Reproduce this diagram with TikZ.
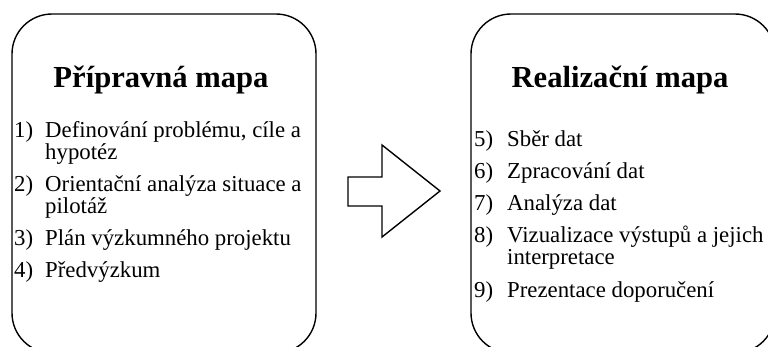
\documentclass[tikz,border=0pt]{standalone}
\usepackage{fontspec}
\setmainfont{Liberation Serif}
\begin{document}
\begin{tikzpicture}[x=1pt,y=-1pt,
  box/.style={draw, line width=1.4pt, rounded corners=40pt, minimum width=304pt, minimum height=339pt, inner sep=0pt},
  ttl/.style={font=\fontsize{30.6}{36}\selectfont\bfseries, anchor=base, inner sep=0pt},
  itm/.style={font=\fontsize{22.8}{22}\selectfont, anchor=base west, inner sep=0pt},
  blockarrow/.style={draw, line width=1.4pt, line join=miter}]
\useasboundingbox (0,0) rectangle (768,346);
\clip (0,0) rectangle (768,346);
\node[box] (L) at (164,183.5) {};
\node[box] (R) at (623,183.5) {};
\node[ttl] (t1) at (161,87) {Přípravná mapa};
\node[ttl] (t2) at (620,87) {Realizační mapa};
% left items
\node[itm] (n1) at (14,137) {1)};
\node[itm] (i1a) at (45,137) {Definování problému, cíle a};
\node[itm] (i1b) at (45,159) {hypotéz};
\node[itm] (n2) at (14,191.3) {2)};
\node[itm] (i2a) at (45,191.3) {Orientační analýza situace a};
\node[itm] (i2b) at (45,213.3) {pilotáž};
\node[itm] (n3) at (14,245.6) {3)};
\node[itm] (i3) at (45,245.6) {Plán výzkumného projektu};
\node[itm] (n4) at (14,277.9) {4)};
\node[itm] (i4) at (45,277.9) {Předvýzkum};
% right items
\node[itm] (n5) at (474,146) {5)};
\node[itm] (i5) at (507,146) {Sběr dat};
\node[itm] (n6) at (474,178.3) {6)};
\node[itm] (i6) at (507,178.3) {Zpracování dat};
\node[itm] (n7) at (474,210.6) {7)};
\node[itm] (i7) at (507,210.6) {Analýza dat};
\node[itm] (n8) at (474,242.9) {8)};
\node[itm] (i8a) at (507,242.9) {Vizualizace výstupů a jejich};
\node[itm] (i8b) at (507,264.9) {interpretace};
\node[itm] (n9) at (474,297.2) {9)};
\node[itm] (i9) at (507,297.2) {Prezentace doporučení};
% block arrow
\draw[blockarrow] (348,177) -- (382,177) -- (382,145) -- (440,191) -- (382,237) -- (382,206) -- (348,206) -- cycle;
\end{tikzpicture}
\end{document}
